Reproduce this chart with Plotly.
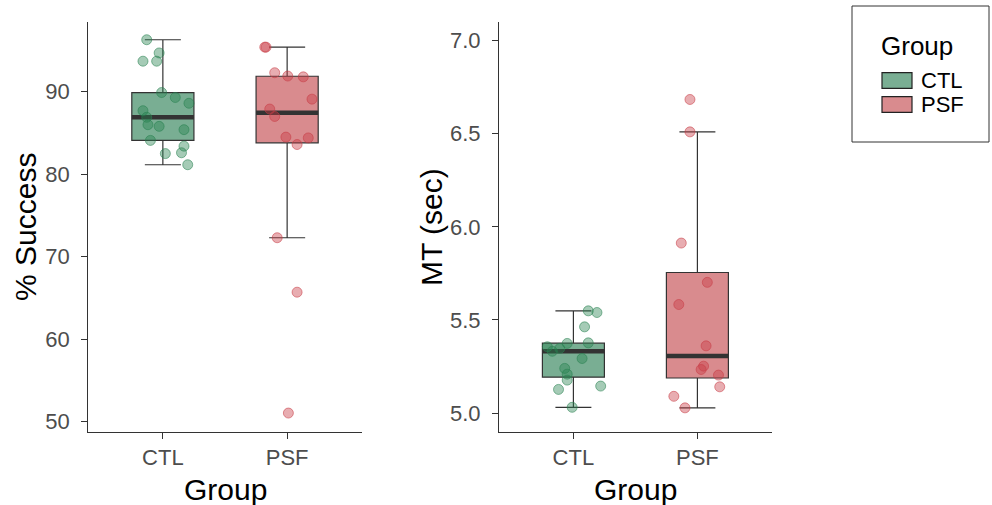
import numpy as np
import plotly.graph_objects as go

# ---------------- data ----------------
groups = ["CTL", "PSF"]
group_pos = [1, 2]

success_ctl = [96.3, 94.7, 93.7, 93.7, 89.9, 89.3, 88.6, 87.7, 86.9, 86.0,
               85.8, 85.4, 84.1, 83.4, 82.5, 82.6, 81.15]
success_ctl_jitter = [-0.13, -0.03, -0.16, -0.05, -0.01, 0.10, 0.21, -0.16, -0.13,
                      -0.12, -0.03, 0.17, -0.10, 0.17, 0.02, 0.15, 0.20]
success_psf = [95.4, 95.4, 92.3, 91.9, 91.8, 89.1, 87.9, 87.0, 84.5, 84.4,
               83.6, 72.3, 65.7, 51.05]
success_psf_jitter = [-0.18, -0.17, -0.10, 0.005, 0.13, 0.20, -0.14, -0.10, -0.01,
                      0.17, 0.08, -0.08, 0.08, 0.01]

mt_ctl = [5.549, 5.540, 5.463, 5.356, 5.332, 5.347, 5.374, 5.377, 5.293, 5.240,
          5.209, 5.177, 5.127, 5.145, 5.031]
mt_ctl_jitter = [0.12, 0.19, 0.09, -0.21, -0.17, -0.11, -0.05, 0.12, 0.07, -0.07,
                 -0.05, -0.05, -0.12, 0.22, -0.01]
mt_psf = [6.684, 6.510, 5.913, 5.702, 5.583, 5.361, 5.252, 5.234, 5.204, 5.141,
          5.090, 5.028]
mt_psf_jitter = [-0.06, -0.06, -0.13, 0.08, -0.15, 0.07, 0.05, 0.03, 0.17, 0.18,
                 -0.19, -0.10]

# ---------------- styles ----------------
FONT = "Liberation Sans, Arial, sans-serif"
box_fill = {"CTL": "#79AE93", "PSF": "#D98B8E"}
pt_fill = {"CTL": "rgba(40,130,80,0.42)", "PSF": "rgba(200,60,70,0.42)"}
pt_line = {"CTL": "rgba(40,130,80,0.55)", "PSF": "rgba(200,60,70,0.55)"}
DARK = "#333333"
W, H = 992, 505

fig = go.Figure()


def box_stats(values):
    a = np.sort(np.asarray(values, dtype=float))
    q1, med, q3 = np.percentile(a, [25, 50, 75])
    iqr = q3 - q1
    lf = a[a >= q1 - 1.5 * iqr].min()
    uf = a[a <= q3 + 1.5 * iqr].max()
    return float(q1), float(med), float(q3), float(lf), float(uf)


def add_panel(values_by_group, jitter_by_group, xa, ya):
    for g, pos in zip(groups, group_pos):
        q1, med, q3, lf, uf = box_stats(values_by_group[g])
        fig.add_trace(go.Box(
            x=[pos], q1=[q1], median=[med], q3=[q3], lowerfence=[lf], upperfence=[uf],
            xaxis=xa, yaxis=ya, width=0.5, whiskerwidth=0.58,
            fillcolor=box_fill[g], line=dict(color=DARK, width=1.2),
            showlegend=False, hoverinfo="skip"))
        fig.add_trace(go.Box(
            x=[pos], q1=[med], median=[med], q3=[med], lowerfence=[med], upperfence=[med],
            xaxis=xa, yaxis=ya, width=0.5, whiskerwidth=0,
            fillcolor="rgba(0,0,0,0)", line=dict(color=DARK, width=4.5),
            showlegend=False, hoverinfo="skip"))
    for g, pos in zip(groups, group_pos):
        vals = values_by_group[g]
        xs = [pos + j for j in jitter_by_group[g]]
        fig.add_trace(go.Scatter(
            x=xs, y=vals, mode="markers", xaxis=xa, yaxis=ya,
            marker=dict(size=10, color=pt_fill[g],
                        line=dict(color=pt_line[g], width=1)),
            showlegend=False, hoverinfo="skip"))


add_panel({"CTL": success_ctl, "PSF": success_psf},
          {"CTL": success_ctl_jitter, "PSF": success_psf_jitter}, "x", "y")
add_panel({"CTL": mt_ctl, "PSF": mt_psf},
          {"CTL": mt_ctl_jitter, "PSF": mt_psf_jitter}, "x2", "y2")


def px(x):
    return x / W


def py(y):
    return 1 - y / H


ydom = [py(431.7), py(22)]

axis_common = dict(
    showline=True, linecolor=DARK, linewidth=1.2, showgrid=False, zeroline=False,
    ticks="outside", ticklen=6, tickwidth=1.1, tickcolor=DARK,
    tickfont=dict(family=FONT, size=22, color="#4D4D4D"),
    automargin=False,
)
xcommon = dict(axis_common, tickvals=group_pos, ticktext=groups, range=[0.4, 2.6],
               ticklabelstandoff=0)

fig.update_layout(
    width=W, height=H,
    margin=dict(l=0, r=0, t=0, b=0),
    paper_bgcolor="white", plot_bgcolor="white",
    xaxis=dict(xcommon, domain=[px(88.3), px(361.7)], anchor="y"),
    yaxis=dict(axis_common, domain=ydom, anchor="x", range=[48.79, 98.45],
               tickvals=[50, 60, 70, 80, 90], ticklabelstandoff=7),
    xaxis2=dict(xcommon, domain=[px(499), px(771.8)], anchor="y2"),
    yaxis2=dict(axis_common, domain=ydom, anchor="x2", range=[4.9, 7.1],
                tickvals=[5.0, 5.5, 6.0, 6.5, 7.0], tickformat=".1f",
                ticklabelstandoff=7),
)

# axis titles
title_font = dict(family=FONT, size=30, color="black")
for txt, xc in [("Group", 225), ("Group", 635.4)]:
    fig.add_annotation(xref="paper", yref="paper", x=px(xc), y=py(489), text=txt,
                       showarrow=False, xanchor="center", yanchor="middle",
                       font=title_font)
for txt, xc in [("% Success", 26), ("MT (sec)", 432)]:
    fig.add_annotation(xref="paper", yref="paper", x=px(xc), y=py(227), text=txt,
                       showarrow=False, xanchor="center", yanchor="middle",
                       textangle=-90, font=title_font)

# ---------------- legend (drawn manually to match ggplot key style) ----------------
fig.add_shape(type="rect", xref="paper", yref="paper",
              x0=px(852), x1=px(989), y0=py(142), y1=py(6),
              line=dict(color=DARK, width=1), fillcolor="white")
fig.add_annotation(xref="paper", yref="paper", x=px(879), y=py(46), text="Group",
                   showarrow=False, xanchor="left", yanchor="middle",
                   font=dict(family=FONT, size=26, color="black"))
for g, yc in zip(groups, [80.5, 104.5]):
    fig.add_shape(type="rect", xref="paper", yref="paper",
                  x0=px(882), x1=px(912), y0=py(yc + 7.8), y1=py(yc - 7.8),
                  line=dict(color="#222222", width=1.2), fillcolor=box_fill[g])
    fig.add_annotation(xref="paper", yref="paper", x=px(919), y=py(yc), text=g,
                       showarrow=False, xanchor="left", yanchor="middle",
                       font=dict(family=FONT, size=22, color="black"))

fig.write_html(
    "out.html",
    config={"displayModeBar": False},
    post_script="document.body.style.margin='0';document.body.style.overflow='hidden';",
)
